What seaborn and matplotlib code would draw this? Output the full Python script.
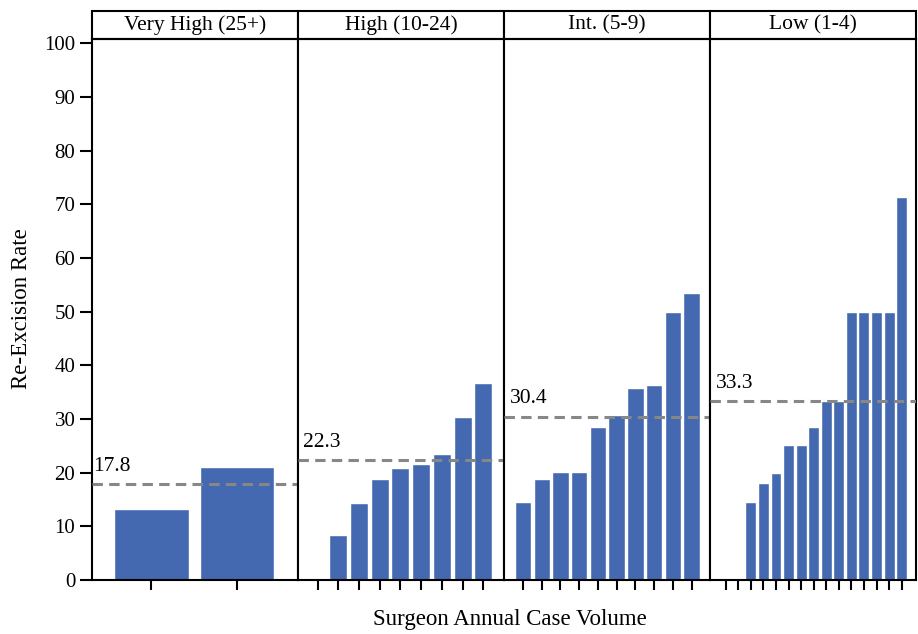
import matplotlib
matplotlib.use("Agg")
import matplotlib.pyplot as plt
from matplotlib.patches import Rectangle
import seaborn as sns
import pandas as pd

# ---- data ----
panels = ["Very High (25+)", "High (10-24)", "Int. (5-9)", "Low (1-4)"]
very_high = [13.3, 21.1]
high = [0.0, 8.4, 14.4, 18.9, 20.9, 21.7, 23.4, 30.3, 36.8]
intermediate = [14.6, 18.9, 20.2, 20.2, 28.6, 30.8, 35.7, 36.4, 49.9, 53.5]
low = [0.0, 0.0, 14.5, 18.1, 20.0, 25.2, 25.2, 28.6, 33.3, 33.3, 50.0, 50.0, 50.0, 50.0, 71.3]
means = [17.8, 22.3, 30.4, 33.3]
y_ticks = [0, 10, 20, 30, 40, 50, 60, 70, 80, 90, 100]

series = [very_high, high, intermediate, low]
xlims = [(-0.69, 1.71), (-0.95, 9.0), (-1.01, 9.98), (-1.25, 15.14)]
label_px = [1.5, 5.5, 6.0, 6.0]

sns.set_style("ticks")
plt.rcParams["font.family"] = ["Liberation Serif", "DejaVu Serif"]
plt.rcParams["lines.scale_dashes"] = False
plt.rcParams["text.color"] = "black"
plt.rcParams["axes.labelcolor"] = "black"
plt.rcParams["xtick.color"] = "black"
plt.rcParams["ytick.color"] = "black"

BAR = "#4469b0"
W, H = 918, 634
fig = plt.figure(figsize=(W / 100, H / 100), dpi=100)
axes = fig.subplots(1, 4, sharey=True, gridspec_kw=dict(
    left=92 / W, right=916 / W, bottom=(H - 580) / H, top=(H - 38.5) / H, wspace=0))

panel_w = (916 - 92) / 4
strip_h = 27.5 / (580 - 38.5)
for i, ax in enumerate(axes):
    vals = series[i]
    df = pd.DataFrame({"pos": [str(k + 1) for k in range(len(vals))], "rate": vals})
    sns.barplot(data=df, x="pos", y="rate", color=BAR, saturation=1, width=0.87,
                ax=ax, errorbar=None)
    ax.set_xlim(*xlims[i])
    ax.set_ylim(0, 100.9)
    ax.set_xticklabels([])
    ax.set_xlabel("")
    ax.set_ylabel("")
    ax.axhline(means[i], color="#878787", lw=2.2, ls=(0, (7.5, 4.5)), zorder=3)
    ax.text(label_px[i] / panel_w, means[i] + 1.6, f"{means[i]:.1f}",
            transform=ax.get_yaxis_transform(),
            fontsize=15.5, color="black", ha="left", va="bottom")
    for s in ax.spines.values():
        s.set_visible(True)
        s.set_linewidth(1.5)
        s.set_color("black")
    ax.tick_params(axis="x", length=7, width=1.5, color="black")
    ax.tick_params(axis="y", length=8.5, width=1.5, color="black", labelsize=15,
                   labelcolor="black")
    if i > 0:
        ax.tick_params(axis="y", left=False)
    ax.add_patch(Rectangle((0, 1), 1, strip_h, transform=ax.transAxes, clip_on=False,
                           fc="white", ec="black", lw=1.5))
    ax.text(0.5, 1 + strip_h / 2, panels[i], transform=ax.transAxes, ha="center",
            va="center", fontsize=15.5, color="black")

axes[0].set_yticks(y_ticks)
fig.text(22 / W, 1 - 309 / H, "Re-Excision Rate", rotation=90, ha="center", va="center",
         fontsize=16.5, color="black")
fig.text(510 / W, 1 - 620 / H, "Surgeon Annual Case Volume", ha="center", va="center",
         fontsize=16.5, color="black")

fig.savefig("out.png", dpi=100)
